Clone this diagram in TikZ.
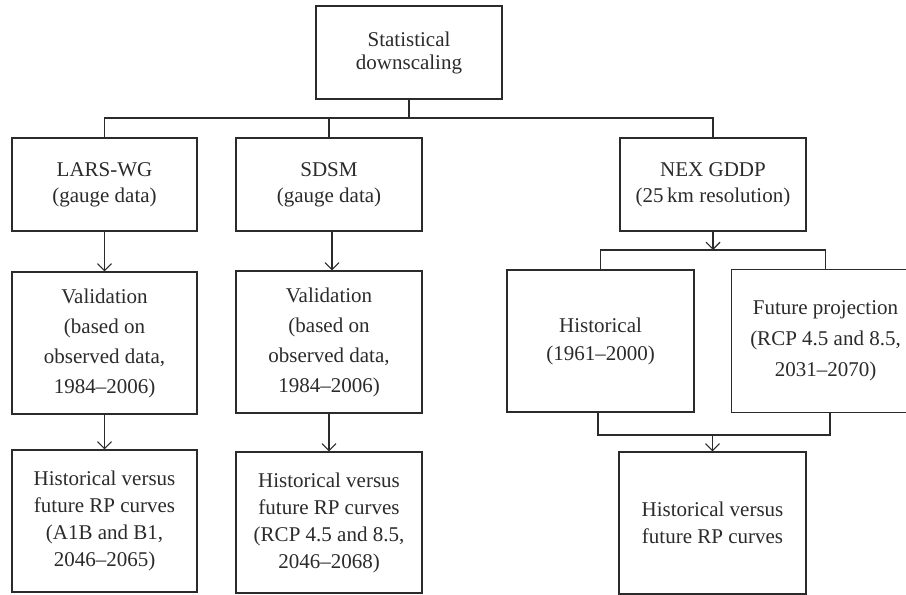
\documentclass[tikz,border=0pt]{standalone}
\usepackage{fontspec}
\setmainfont{Liberation Serif}
\usetikzlibrary{arrows.meta}
\definecolor{ink}{rgb}{0.17,0.17,0.17}
\begin{document}
\begin{tikzpicture}[x=1pt,y=-1pt,
  box/.style={draw=ink, line width=1.2pt, rectangle, inner sep=0pt,
    minimum width=186pt, minimum height=142pt, align=center, text=ink,
    font=\fontsize{21}{27}\selectfont},
  shortbox/.style={box, minimum height=93pt},
  conn/.style={draw=ink, line width=1.2pt},
  arr/.style={conn, -{Straight Barb[length=7pt,width=14pt,line width=1.1pt]}}]
\useasboundingbox (0,0) rectangle (906,595);
\fill[white] (0,0) rectangle (906,595);

\node[shortbox, font=\fontsize{21}{23}\selectfont] (top) at (409,52.5) {Statistical\\downscaling};
\node[shortbox, font=\fontsize{21}{26}\selectfont, minimum width=185pt] (lars) at (104.5,184.5) {LARS-WG\\(gauge data)};
\node[shortbox, font=\fontsize{21}{26}\selectfont] (sdsm) at (329,184.5) {SDSM\\(gauge data)};
\node[shortbox, font=\fontsize{21}{26}\selectfont] (nex) at (713,184.5) {NEX GDDP\\(25\,km resolution)};

\node[box, font=\fontsize{21}{30}\selectfont, minimum width=185pt] (valL) at (104.5,343) {Validation\\(based on\\observed data,\\1984--2006)};
\node[box, font=\fontsize{21}{30}\selectfont] (valS) at (329,342) {Validation\\(based on\\observed data,\\1984--2006)};

\node[box, minimum width=185pt] (botL) at (104.5,521) {Historical versus\\future RP curves\\(A1B and B1,\\2046--2065)};
\node[box, minimum height=141pt] (botS) at (329,522.5) {Historical versus\\future RP curves\\(RCP 4.5 and 8.5,\\2046--2068)};

\node[box, minimum width=187pt, font=\fontsize{21}{28}\selectfont] (hist) at (600.5,341) {Historical\\(1961--2000)};
\node[box, draw=none, minimum width=187pt, font=\fontsize{21}{31}\selectfont] (fut) at (825.5,341) {Future projection\\(RCP 4.5 and 8.5,\\2031--2070)};
\draw[conn] (fut.north east) -- (fut.north west) -- (fut.south west) -- (fut.south east);
\node[box, minimum width=187pt] (botN) at (712.5,523) {Historical versus\\future RP curves};

\coordinate (bus1) at (0,118);
\coordinate (bus2) at (0,250);
\coordinate (bus3) at (0,435);

\draw[conn] (top.south) -- (top.south |- bus1);
\draw[conn] (lars.north) -- (lars.north |- bus1) -- (nex.north |- bus1) -- (nex.north);
\draw[conn] (sdsm.north) -- (sdsm.north |- bus1);

\draw[arr] (lars.south) -- (valL.north);
\draw[arr] ([xshift=3pt]sdsm.south) -- ([xshift=3pt]valS.north);
\draw[arr] (valL.south) -- (botL.north);
\draw[arr] (valS.south) -- (botS.north);

\draw[arr] (nex.south) -- (nex.south |- bus2);
\draw[conn] (hist.north) -- (hist.north |- bus2) -- (fut.north |- bus2) -- (fut.north);

\draw[conn] ([xshift=-2.5pt]hist.south) -- ([xshift=-2.5pt]hist.south |- bus3) -- ([xshift=4.5pt]fut.south |- bus3) -- ([xshift=4.5pt]fut.south);
\draw[arr] (botN.north |- bus3) -- (botN.north);
\end{tikzpicture}
\end{document}
